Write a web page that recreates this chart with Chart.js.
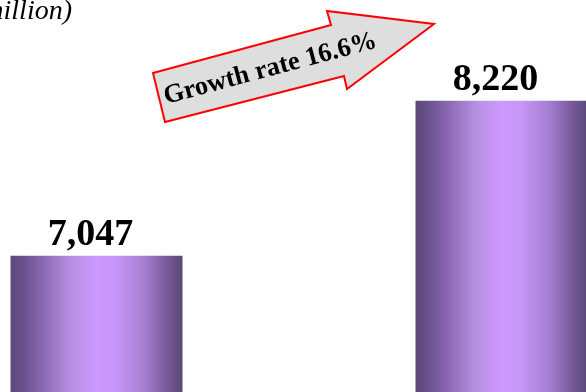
<!DOCTYPE html>
<html>
<head>
<meta charset="utf-8">
<script src="https://cdn.jsdelivr.net/npm/chart.js@4"></script>
<style>
  html, body { margin: 0; padding: 0; background: #fff; overflow: hidden; }
  #wrap { position: relative; width: 586px; height: 392px; overflow: hidden; }
  #salesChart { position: absolute; left: -106px; top: 0; }
</style>
</head>
<body>
<div id="wrap"><canvas id="salesChart" width="810" height="1187"></canvas></div>
<script>
// --- Data ---
const years = ["Before", "After"];
const sales = [7047, 8220];
const unitText = "(Unit: million)";
const growthText = "Growth rate 16.6%";

const OFFSET_X = 106; // canvas is shifted left, so page x + OFFSET_X = canvas x

// horizontal "cylinder" shading for each bar
const barShading = {
	id: "barShading",
	beforeDatasetsDraw(chart) {
		const ctx = chart.ctx;
		chart.getDatasetMeta(0).data.forEach((bar) => {
			const left = bar.x - bar.width / 2;
			const g = ctx.createLinearGradient(left, 0, left + bar.width, 0);
			g.addColorStop(0, "#5c4878");
			g.addColorStop(0.08, "#6a5290");
			g.addColorStop(0.2, "#8e6bb6");
			g.addColorStop(0.35, "#b690e2");
			g.addColorStop(0.5, "#cc99ff");
			g.addColorStop(0.62, "#c595f6");
			g.addColorStop(0.78, "#a47ed0");
			g.addColorStop(0.9, "#7a5c9e");
			g.addColorStop(1, "#5c4878");
			// options object is shared between bars, so give each its own copy
			bar.options = Object.assign({}, bar.options, { backgroundColor: g });
		});
	},
	afterDatasetsDraw(chart) {
		const ctx = chart.ctx;
		ctx.save();
		ctx.fillStyle = "#000";
		ctx.font = "bold 38px 'Liberation Serif', 'Times New Roman', serif";
		ctx.textAlign = "center";
		ctx.textBaseline = "alphabetic";
		chart.getDatasetMeta(0).data.forEach((bar, i) => {
			ctx.fillText(sales[i].toLocaleString("en-US"), bar.x - 6, bar.y - 11);
		});
		ctx.restore();
	},
};

// unit caption and growth arrow
const decorations = {
	id: "decorations",
	afterDraw(chart) {
		const ctx = chart.ctx;
		ctx.save();
		ctx.translate(OFFSET_X, 0);

		ctx.fillStyle = "#000";
		ctx.font = "italic 28px 'Liberation Serif', 'Times New Roman', serif";
		ctx.textAlign = "right";
		ctx.textBaseline = "alphabetic";
		ctx.fillText(unitText, 72, 19);

		// arrow outline
		const pts = [[153, 73], [331, 25], [327, 11], [434, 24], [347, 89], [344, 76], [165, 122]];
		ctx.beginPath();
		pts.forEach(([x, y], i) => (i ? ctx.lineTo(x, y) : ctx.moveTo(x, y)));
		ctx.closePath();
		ctx.fillStyle = "#dedede";
		ctx.fill();
		ctx.strokeStyle = "#ff0000";
		ctx.lineWidth = 2;
		ctx.lineJoin = "miter";
		ctx.stroke();

		ctx.translate(166, 104);
		ctx.rotate(-15 * Math.PI / 180);
		ctx.fillStyle = "#000";
		ctx.font = "bold 26.5px 'Liberation Serif', 'Times New Roman', serif";
		ctx.textAlign = "left";
		ctx.textBaseline = "alphabetic";
		ctx.fillText(growthText, 0, 0);
		ctx.restore();
	},
};

new Chart(document.getElementById("salesChart"), {
	type: "bar",
	data: {
		labels: years,
		datasets: [{ data: sales, backgroundColor: "#cc99ff", borderWidth: 0 }],
	},
	options: {
		responsive: false,
		devicePixelRatio: 1,
		animation: false,
		layout: { padding: 0 },
		barPercentage: 1,
		categoryPercentage: 172 / 405,
		plugins: { legend: { display: false }, tooltip: { enabled: false } },
		scales: {
			x: { display: false },
			y: { display: false, min: 0, max: 8983 },
		},
	},
	plugins: [barShading, decorations],
});
</script>
</body>
</html>
